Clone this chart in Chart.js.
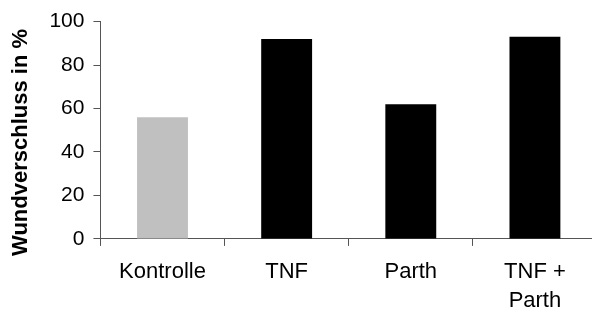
<!DOCTYPE html>
<html>
<head>
<meta charset="utf-8">
<script src="https://cdn.jsdelivr.net/npm/chart.js@4/dist/chart.umd.min.js"></script>
<style>
  html, body { margin: 0; padding: 0; background: #fff; overflow: hidden; }
  #wrap { width: 600px; height: 309px; }
</style>
</head>
<body>
<div id="wrap"><canvas id="woundChart" width="600" height="309"></canvas></div>
<script>
const categories = ['Kontrolle', 'TNF', 'Parth', ['TNF +', 'Parth']];
const closure = [56, 92, 62, 93];
const barColors = ['#c0c0c0', '#000000', '#000000', '#000000'];
const yTicks = [0, 20, 40, 60, 80, 100];

const axisColor = '#555555';
const fontFamily = "'Liberation Sans', Arial, sans-serif";

const ctx = document.getElementById('woundChart').getContext('2d');
const woundChart = new Chart(ctx, {
    type: 'bar',
    data: {
        labels: categories,
        datasets: [{
            data: closure,
            backgroundColor: barColors,
            borderWidth: 0,
            categoryPercentage: 1.0,
            barPercentage: 0.41
        }]
    },
    options: {
        responsive: false,
        animation: false,
        layout: { padding: { top: 20, right: 3, left: 8, bottom: -17 } },
        plugins: {
            legend: { display: false },
            tooltip: { enabled: false }
        },
        scales: {
            x: {
                grid: {
                    offset: true,
                    drawOnChartArea: false,
                    drawTicks: true,
                    tickLength: 7,
                    color: axisColor
                },
                border: { color: axisColor, width: 1 },
                ticks: {
                    color: '#000',
                    padding: 11,
                    maxRotation: 0,
                    autoSkip: false,
                    font: { family: fontFamily, size: 22, lineHeight: 1.32 }
                }
            },
            y: {
                min: 0,
                max: 100,
                afterBuildTicks: axis => { axis.ticks = yTicks.map(v => ({ value: v })); },
                grid: {
                    drawOnChartArea: false,
                    drawTicks: true,
                    tickLength: 7,
                    color: axisColor
                },
                border: { color: axisColor, width: 1 },
                ticks: {
                    color: '#000',
                    padding: 9,
                    font: { family: fontFamily, size: 21 }
                },
                title: {
                    display: true,
                    // trailing spaces nudge the rotated title down a bit, like the original
                    text: 'Wundverschluss in %    ',
                    color: '#000',
                    padding: { top: 0, bottom: 6 },
                    font: { family: fontFamily, size: 22, weight: 'bold' }
                }
            }
        }
    }
});
</script>
</body>
</html>
